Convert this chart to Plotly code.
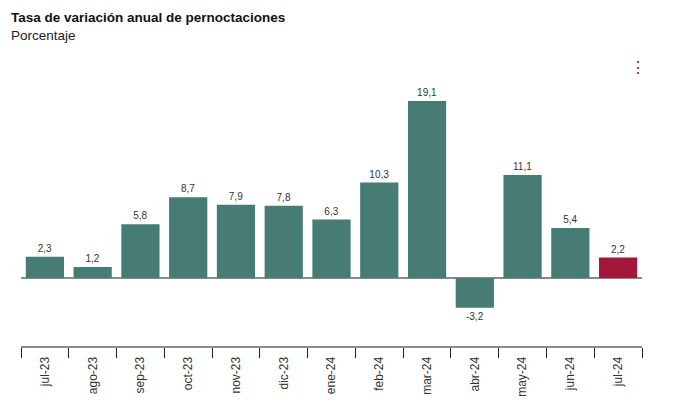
import plotly.graph_objects as go

categories = ["jul-23", "ago-23", "sep-23", "oct-23", "nov-23", "dic-23", "ene-24",
              "feb-24", "mar-24", "abr-24", "may-24", "jun-24", "jul-24"]
values = [2.3, 1.2, 5.8, 8.7, 7.9, 7.8, 6.3, 10.3, 19.1, -3.2, 11.1, 5.4, 2.2]

teal = "#467C73"
crimson = "#A3173A"
colors = [teal] * (len(values) - 1) + [crimson]
labels = [f"{v:.1f}".replace(".", ",") for v in values]

fig = go.Figure(go.Bar(
    x=categories, y=values, marker=dict(color=colors, line=dict(width=0)),
    text=labels, textposition="outside", cliponaxis=False,
    textfont=dict(family="Liberation Sans, Arial, sans-serif", size=10, color="#333333"),
    width=0.8, hoverinfo="x+y",
))

W, H = 684, 412
ML, MR, MT, MB = 21, 42, 55, 66
pw = W - ML - MR
ph = H - MT - MB


def px2paper(x, y):
    return (x - ML) / pw, (H - MB - y) / ph


tx, ty = px2paper(9, 17)
sx, sy = px2paper(9, 35)
mx, my = px2paper(638, 68)

fig.update_layout(
    width=W, height=H,
    margin=dict(l=ML, r=MR, t=MT, b=MB),
    paper_bgcolor="white", plot_bgcolor="white",
    separators=",.",
    showlegend=False,
    font=dict(family="Liberation Sans, Arial, sans-serif", color="#333333"),
    xaxis=dict(
        type="category", tickangle=-90, tickson="boundaries",
        ticks="outside", ticklen=10, tickcolor="#222222", tickwidth=1,
        showline=True, linecolor="#8A8A8A", linewidth=2,
        showgrid=False, tickfont=dict(size=12, color="#333333"),
        ticklabelstandoff=4,
        range=[-0.5, 12.5],
    ),
    yaxis=dict(
        range=[-7.33, 24.05], showgrid=False, showticklabels=False,
        zeroline=True, zerolinecolor="#8A8A8A", zerolinewidth=2,
        showline=False, ticks="",
    ),
    annotations=[
        dict(text="<b>Tasa de variación anual de pernoctaciones</b>", x=tx, y=ty,
             xref="paper", yref="paper", showarrow=False, xanchor="left", yanchor="middle",
             font=dict(size=13.5, color="#111111")),
        dict(text="Porcentaje", x=sx, y=sy, xref="paper", yref="paper",
             showarrow=False, xanchor="left", yanchor="middle",
             font=dict(size=13.5, color="#222222")),
        dict(text="⋮", x=mx, y=my, xref="paper", yref="paper", showarrow=False,
             xanchor="center", yanchor="middle",
             font=dict(size=16, color="#8B1A2B")),
    ],
)

fig.write_html("out.html", config={"displayModeBar": False},
               post_script="document.body.style.margin='0';")
